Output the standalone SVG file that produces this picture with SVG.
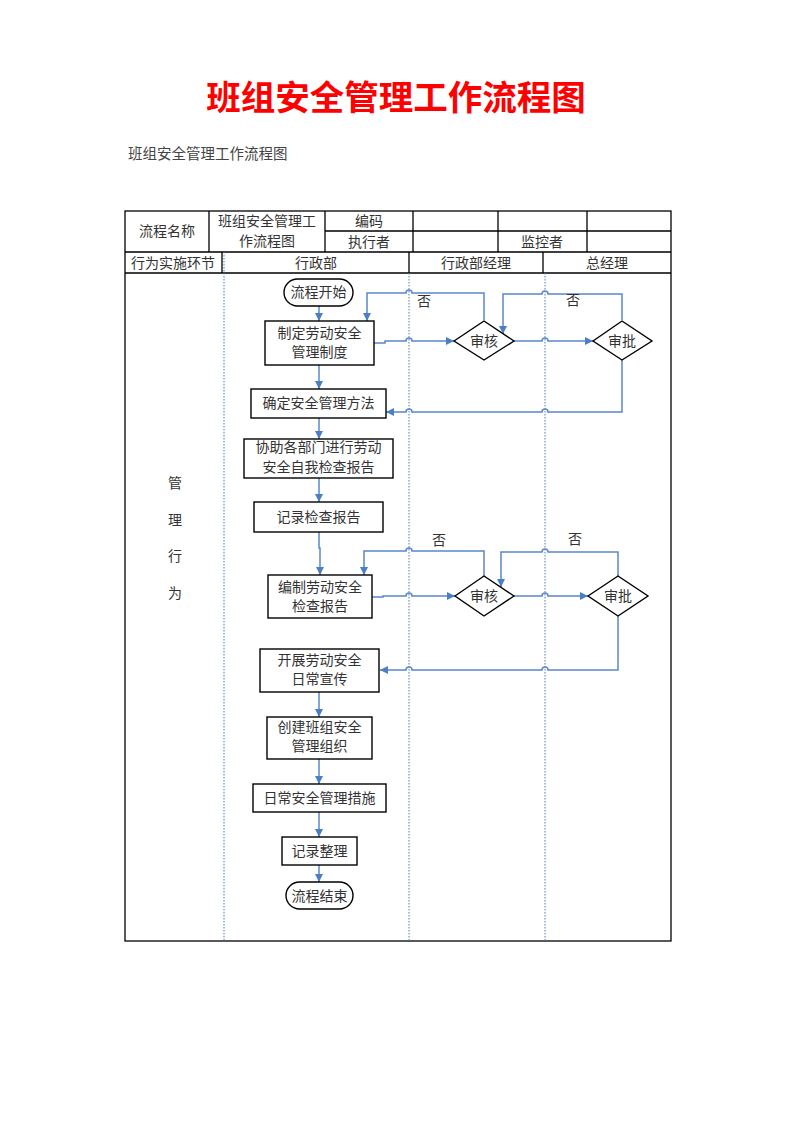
<svg xmlns="http://www.w3.org/2000/svg" width="794" height="1123" viewBox="0 0 794 1123">
<style>
text{font-family:"Liberation Serif","Noto Sans CJK SC",serif;font-size:14px;fill:#333;text-anchor:middle}
.title{font-size:34.5px;font-weight:bold;fill:#ff0000}
.sub{text-anchor:start;fill:#444;font-size:14.5px}
.tb{stroke:#000;stroke-width:1.3;fill:none}
.lane{stroke:#4A7EC7;stroke-width:1;stroke-dasharray:1.5 1.5;fill:none}
.box{fill:#fff;stroke:#000;stroke-width:1.4}
.c{fill:none;stroke:#5B87CC;stroke-width:1.5}
.a{marker-end:url(#ar)}
</style>
<defs>
<marker id="ar" markerUnits="userSpaceOnUse" markerWidth="8" markerHeight="8" refX="8" refY="4" orient="auto">
<path d="M0,0 L8,4 L0,8 z" fill="#4A7EC7"/>
</marker>
</defs>
<rect width="794" height="1123" fill="#fff"/>
<text class="title" x="396" y="110">班组安全管理工作流程图</text>
<text class="sub" x="128" y="159">班组安全管理工作流程图</text>

<g id="table">
<rect class="tb" x="125" y="211" width="546" height="730"/>
<path class="tb" d="M325 231H671M125 252H671M125 273H671M209 211V252M325 211V252M413 211V252M498 211V252M587 211V252M222 252V273M409 252V273M543 252V273"/>
<text x="167" y="236">流程名称</text>
<text x="267" y="226">班组安全管理工</text>
<text x="267" y="246">作流程图</text>
<text x="369" y="226">编码</text>
<text x="369" y="247">执行者</text>
<text x="542" y="247">监控者</text>
<text x="173" y="268">行为实施环节</text>
<text x="316" y="268">行政部</text>
<text x="476" y="268">行政部经理</text>
<text x="607" y="268">总经理</text>
<text x="175" y="488">管</text>
<text x="175" y="525">理</text>
<text x="175" y="561">行</text>
<text x="175" y="598">为</text>
</g>
<g id="lanes">
<path class="lane" d="M224 252V941M409 273V941M545 273V941"/>
</g>

<g id="connectors">
<path class="c a" d="M319 306V321"/>
<path class="c a" d="M319 365V389"/>
<path class="c a" d="M319 418V439"/>
<path class="c a" d="M319 478V502"/>
<path class="c a" d="M319 532V548H320V575"/>
<path class="c a" d="M319 692V717"/>
<path class="c a" d="M319 759V784"/>
<path class="c a" d="M319 812V837"/>
<path class="c a" d="M319 865V882"/>
<path class="c a" d="M374 343H385V341H406A3 3 0 0 1 412 341H454"/>
<path class="c a" d="M514 341H542A3 3 0 0 1 548 341H593"/>
<path class="c a" d="M484 320V293H412A3 3 0 0 0 406 293H367V321"/>
<path class="c a" d="M622 320V294H548A3 3 0 0 0 542 294H503V334"/>
<path class="c a" d="M622 359V412H548A3 3 0 0 0 542 412H412A3 3 0 0 0 406 412H386"/>
<path class="c a" d="M372 597H383V596H406A3 3 0 0 1 412 596H455"/>
<path class="c a" d="M514 596H542A3 3 0 0 1 548 596H588"/>
<path class="c a" d="M484 576V551H412A3 3 0 0 0 406 551H364V575"/>
<path class="c a" d="M618 576V552H548A3 3 0 0 0 542 552H501V587"/>
<path class="c a" d="M618 616V670H548A3 3 0 0 0 542 670H412A3 3 0 0 0 406 670H380"/>
<text x="424" y="306">否</text>
<text x="573" y="305">否</text>
<text x="439" y="545">否</text>
<text x="575" y="544">否</text>
</g>

<g id="n-start"><rect class="box" x="284" y="279" width="69" height="27" rx="13.5"/><text x="318.5" y="297">流程开始</text></g>
<g id="n-zhiding"><rect class="box" x="265" y="321" width="109" height="44"/><text x="319.5" y="338">制定劳动安全</text><text x="319.5" y="357">管理制度</text></g>
<g id="n-queding"><rect class="box" x="251" y="389" width="135" height="29"/><text x="318.5" y="408">确定安全管理方法</text></g>
<g id="n-xiezhu"><rect class="box" x="244" y="439" width="149" height="39"/><text x="318.5" y="452">协助各部门进行劳动</text><text x="318.5" y="472">安全自我检查报告</text></g>
<g id="n-jilu"><rect class="box" x="254" y="502" width="129" height="30"/><text x="318.5" y="522">记录检查报告</text></g>
<g id="n-bianzhi"><rect class="box" x="268" y="575" width="104" height="43"/><text x="320" y="592">编制劳动安全</text><text x="320" y="611">检查报告</text></g>
<g id="n-kaizhan"><rect class="box" x="260" y="649" width="119" height="43"/><text x="319.5" y="665">开展劳动安全</text><text x="319.5" y="684">日常宣传</text></g>
<g id="n-chuangjian"><rect class="box" x="267" y="717" width="105" height="42"/><text x="319.5" y="732">创建班组安全</text><text x="319.5" y="751">管理组织</text></g>
<g id="n-richang"><rect class="box" x="253" y="784" width="133" height="28"/><text x="319.5" y="803">日常安全管理措施</text></g>
<g id="n-jiluzhengli"><rect class="box" x="282" y="837" width="75" height="28"/><text x="319.5" y="856">记录整理</text></g>
<g id="n-end"><rect class="box" x="286" y="882" width="67" height="27" rx="13.5"/><text x="319.5" y="901">流程结束</text></g>

<g id="d-shenhe1"><path class="box" d="M454 341L484 321L514 341L484 360Z"/><text x="484" y="346">审核</text></g>
<g id="d-shenpi1"><path class="box" d="M593 341L622 321L652 341L622 360Z"/><text x="622" y="346">审批</text></g>
<g id="d-shenhe2"><path class="box" d="M455 596L484 576L514 596L484 616Z"/><text x="484" y="601">审核</text></g>
<g id="d-shenpi2"><path class="box" d="M588 596L618 576L648 596L618 616Z"/><text x="618" y="601">审批</text></g>
</svg>
